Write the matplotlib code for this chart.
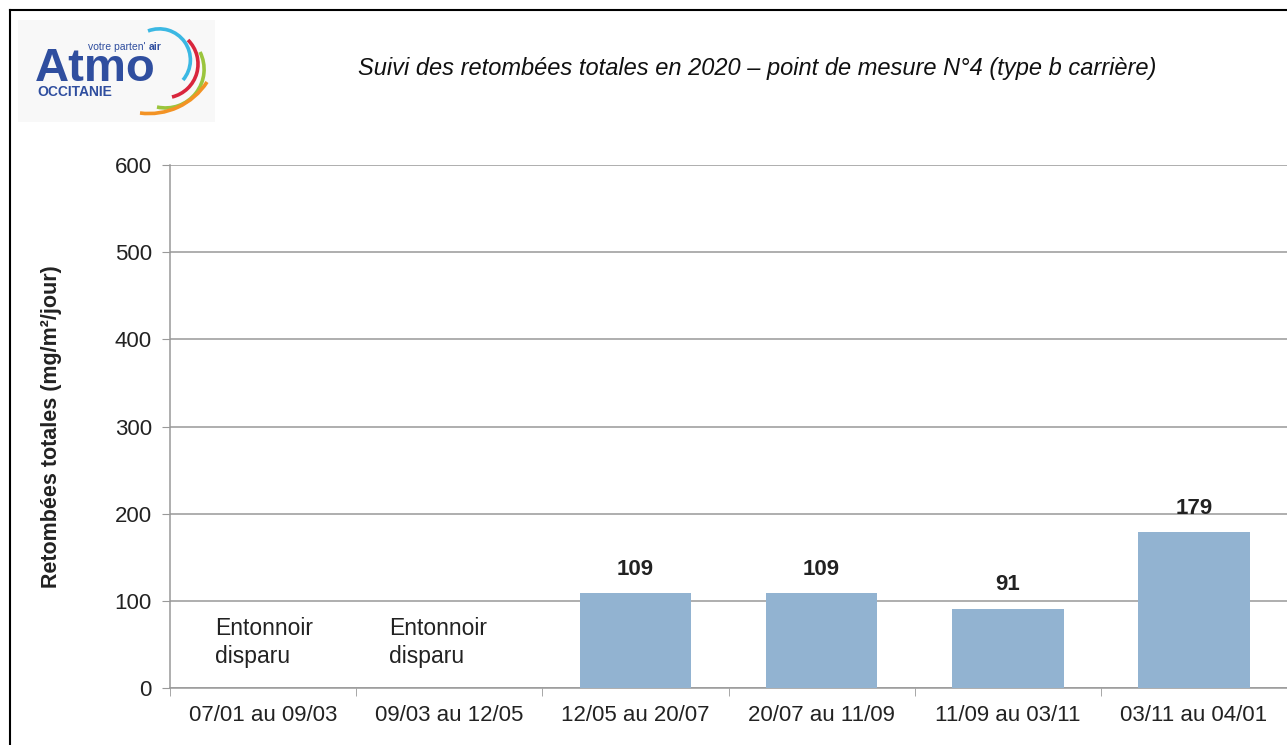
import matplotlib.pyplot as plt
import numpy as np
from matplotlib.patches import Arc
from matplotlib.lines import Line2D

plt.rcParams['font.family'] = ['Liberation Sans', 'DejaVu Sans']

# data
periodes = ['07/01 au 09/03', '09/03 au 12/05', '12/05 au 20/07',
            '20/07 au 11/09', '11/09 au 03/11', '03/11 au 04/01']
retombees = [np.nan, np.nan, 109, 109, 91, 179]
manquants = [0, 1]  # entonnoir disparu
note_x = [-0.258, 0.677]
titre = 'Suivi des retombées totales en 2020 \u2013 point de mesure N°4 (type b carrière)'

W, H = 1287, 745
fig = plt.figure(figsize=(W/100, H/100), dpi=100)
ax = fig.add_axes([170/W, 1-688/H, 1-170/W, (688-165)/H])

x = np.arange(len(periodes))
vals = np.array(retombees, dtype=float)
ax.bar(x, np.nan_to_num(vals), width=0.6, color='#92B3D1', zorder=3)
for xi, v in zip(x, vals):
    if not np.isnan(v):
        ax.annotate('%d' % v, (xi, v), xytext=(0, 9.5), textcoords='offset points',
                    ha='center', va='bottom', fontsize=16, fontweight='bold', color='#222222')
for i, nx in zip(manquants, note_x):
    ax.text(nx, 52, 'Entonnoir\ndisparu', ha='left', va='center',
            fontsize=16.5, color='#222222', linespacing=1.25)

ax.set_xlim(-0.5, len(periodes) - 0.5)
ax.set_ylim(0, 600)
ax.set_yticks(range(0, 601, 100))
ax.set_xticks(x)
ax.set_xticklabels(periodes, fontsize=16, color='#222222')
ax.set_xticks(np.arange(-0.5, len(periodes), 1), minor=True)
ax.tick_params(axis='x', which='major', length=0, pad=12)
ax.tick_params(axis='x', which='minor', length=6, color='#999999', direction='out')
ax.tick_params(axis='y', length=6, color='#999999', labelsize=16, labelcolor='#222222', pad=7)
ax.yaxis.grid(True, color='#999999', linewidth=1.1, zorder=0)
for s in ['top', 'right']:
    ax.spines[s].set_visible(False)
for s in ['left', 'bottom']:
    ax.spines[s].set_color('#999999')
    ax.spines[s].set_linewidth(1.1)
ax.set_ylabel('Retombées totales (mg/m²/jour)', fontsize=15.5, fontweight='bold', color='#222222')
ax.yaxis.set_label_coords(-(170-62)/(W-170), 0.5)

fig.text(757/W, 1-68/H, titre, ha='center', va='center', fontsize=17,
         style='italic', color='#111111')

# black frame (left and top)
fig.add_artist(Line2D([10/W, 10/W], [0, 1-10/H], color='black', lw=1.5))
fig.add_artist(Line2D([10/W, 1], [1-10/H, 1-10/H], color='black', lw=1.5))

# logo
lg = fig.add_axes([18/W, 1-122/H, 197/W, 102/H])
lg.set_xlim(18, 215)
lg.set_ylim(-122, -20)
lg.set_facecolor('#f8f8f8')
lg.set_xticks([])
lg.set_yticks([])
for s in lg.spines.values():
    s.set_visible(False)
blue = '#2F4E9F'
lg.text(35, -81, 'Atmo', fontsize=34, fontweight='bold', color=blue, va='baseline')
lg.text(88, -50, "votre parten'", fontsize=7.5, color=blue, va='baseline')
lg.text(149, -50, 'air', fontsize=7.5, fontweight='bold', color=blue, va='baseline')
lg.text(37, -96, 'OCCITANIE', fontsize=10, fontweight='bold', color=blue, va='baseline')


def arc3(p1, p2, p3, color):
    # circle through three pixel points, drawn from p1 to p3 clockwise
    (x1, y1), (x2, y2), (x3, y3) = [(px, -py) for px, py in (p1, p2, p3)]
    d = 2 * (x1*(y2-y3) + x2*(y3-y1) + x3*(y1-y2))
    ux = ((x1**2+y1**2)*(y2-y3) + (x2**2+y2**2)*(y3-y1) + (x3**2+y3**2)*(y1-y2)) / d
    uy = ((x1**2+y1**2)*(x3-x2) + (x2**2+y2**2)*(x1-x3) + (x3**2+y3**2)*(x2-x1)) / d
    r = np.hypot(x1-ux, y1-uy)
    a1 = np.degrees(np.arctan2(y1-uy, x1-ux))
    a3 = np.degrees(np.arctan2(y3-uy, x3-ux))
    lg.add_patch(Arc((ux, uy), 2*r, 2*r, theta1=a3, theta2=a1, color=color, lw=2.6))


arc3((148, 31), (190, 55), (183, 80), '#3BB8E3')
arc3((188, 40), (198, 65), (172, 97), '#D9263D')
arc3((200, 52), (204, 72), (157, 107), '#9BC53D')
arc3((207, 82), (184, 104), (140, 113), '#F39325')

fig.savefig('out.png', dpi=100)
